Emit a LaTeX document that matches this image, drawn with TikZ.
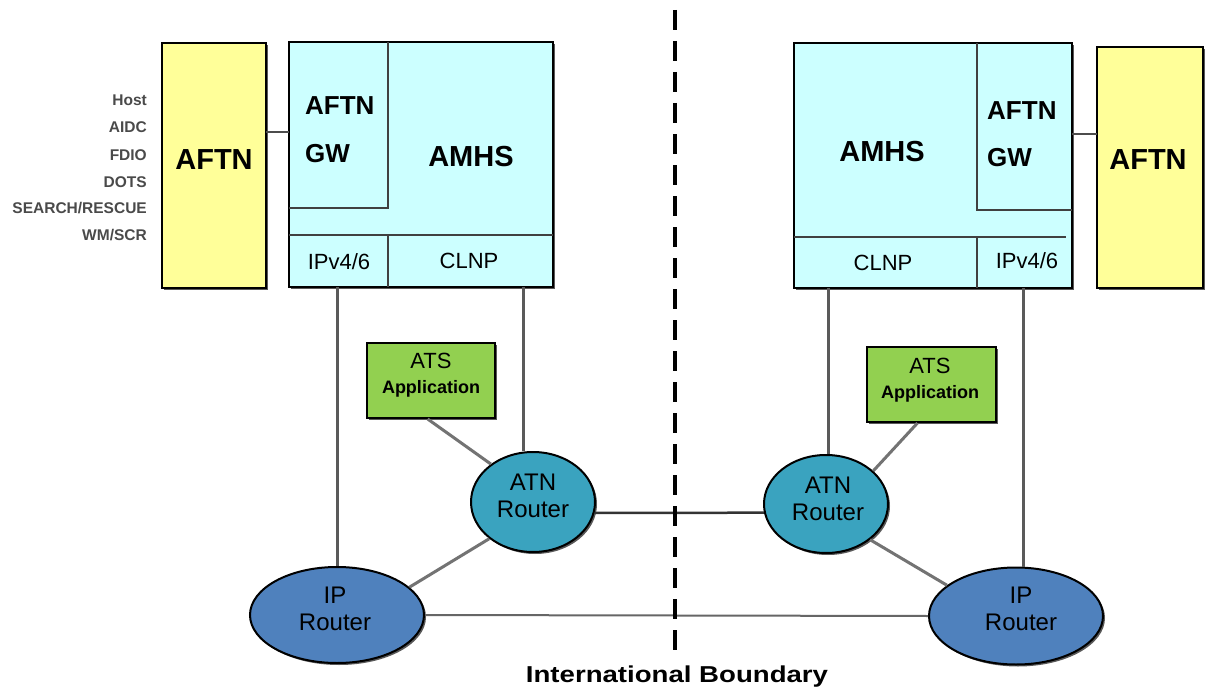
\documentclass[tikz,border=0pt]{standalone}
\usepackage{fontspec}
\setmainfont{Liberation Sans}
\usetikzlibrary{shapes.geometric,shadows,calc}
\definecolor{aftnY}{HTML}{FFFF99}
\definecolor{amhsC}{HTML}{CCFFFF}
\definecolor{atsG}{HTML}{92D050}
\definecolor{atnB}{HTML}{3AA3BF}
\definecolor{ipB}{HTML}{4F81BD}
\definecolor{lineG}{HTML}{5A5A5A}
\definecolor{sideG}{HTML}{4A4A4A}
\newcommand\fBig{\fontsize{29bp}{34bp}\selectfont\bfseries}
\newcommand\fGw{\fontsize{26bp}{30bp}\selectfont\bfseries}
\newcommand\fProto{\fontsize{22bp}{26bp}\selectfont}
\newcommand\fRouter{\fontsize{24bp}{28bp}\selectfont}
\newcommand\fAts{\fontsize{22bp}{26bp}\selectfont}
\newcommand\fAppl{\fontsize{18bp}{20bp}\selectfont\bfseries}
\newcommand\fSide{\fontsize{15.5bp}{18bp}\selectfont\bfseries}
\newcommand\fIntl{\fontsize{23bp}{26bp}\selectfont\bfseries}
\begin{document}
\begin{tikzpicture}[x=1bp,y=-1bp,
  shade/.style={drop shadow={shadow xshift=2bp,shadow yshift=-2bp,fill=black!65,opacity=1}},
  box/.style={draw=black,line width=2bp,inner sep=0pt,shade},
  inner/.style={draw=black!75,line width=1.5bp},
  router/.style={ellipse,draw=black,line width=2bp,inner sep=0pt,shade},
  atsbox/.style={box,fill=atsG},
  txt/.style={anchor=base,inner sep=0pt},
  conn/.style={draw=lineG,line width=3bp},
  lconn/.style={draw=black!55,line width=3bp},
  side/.style={anchor=east,font=\fSide,text=sideG,inner sep=0pt},
  boundary/.style={draw=black,line width=4.5bp,dash pattern=on 20bp off 11bp}]
\fill[white] (0,0) rectangle (1208,696);
\useasboundingbox (0,0) rectangle (1208,696);

% ---------- left side ----------
\node[side] (hostL) at (147,100) {Host};
\node[side] (aidcL) at (147,127) {AIDC};
\node[side] (fdioL) at (147,155) {FDIO};
\node[side] (dotsL) at (147,182) {DOTS};
\node[side] (srL) at (147,208) {SEARCH/RESCUE};
\node[side] (wmL) at (147,235) {WM/SCR};

\node[box,fill=aftnY,minimum width=104bp,minimum height=245bp] (aftnL) at (214,165.5) {};
\node[txt,font=\fBig] (aftnLt) at (214,170) {AFTN};
\node[box,fill=amhsC,minimum width=264bp,minimum height=245bp] (amhsL) at (421,164.5) {};
\draw[inner] (388,42) -- (388,208) -- (289,208);
\draw[inner] (289,235) -- (553,235);
\draw[inner] (388,235) -- (388,287);
\node[anchor=base west,font=\fGw,inner sep=0pt] (gwLa) at (305,115) {AFTN};
\node[anchor=base west,font=\fGw,inner sep=0pt] (gwLb) at (305,163) {GW};
\node[txt,font=\fBig] (amhsLt) at (471,167) {AMHS};
\node[txt,font=\fProto] (ipLt) at (339,269) {IPv4/6};
\node[txt,font=\fProto] (clnpLt) at (469,268) {CLNP};

\coordinate (aftnLc) at (266,132);
\coordinate (amhsLc) at (289,132);
\draw[draw=black!70,line width=2bp] (aftnLc) -- (amhsLc);

\node[atsbox,minimum width=128bp,minimum height=75bp] (atsL) at (431,380.5) {};
\node[txt,font=\fAts] (atsLa) at (431,368) {ATS};
\node[txt,font=\fAppl] (atsLb) at (431,393) {Application};
\node[router,fill=atnB,minimum width=124bp,minimum height=100bp] (atnL) at (533,502) {};
\node[txt,font=\fRouter] (atnLa) at (533,490) {ATN};
\node[txt,font=\fRouter] (atnLb) at (533,517) {Router};
\node[router,fill=ipB,minimum width=174bp,minimum height=96bp] (ipL) at (337,615) {};
\node[txt,font=\fRouter] (ipLa) at (335,603) {IP};
\node[txt,font=\fRouter] (ipLb) at (335,630) {Router};

\coordinate (ipLtop) at (337,287);
\coordinate (clnpLbot) at (523,287);
\draw[conn] (ipLtop) -- (ipL.north);
\draw[conn] (clnpLbot) -- (clnpLbot |- atnL.north);
\draw[lconn] (atsL.-95) -- (atnL.138);
\draw[lconn] (atnL.220) -- (ipL.21);

% ---------- right side ----------
\node[box,fill=amhsC,minimum width=278bp,minimum height=245bp] (amhsR) at (933,165.5) {};
\draw[inner] (977,43) -- (977,210) -- (1072,210);
\draw[inner] (794,237) -- (1066,237);
\draw[inner] (977,237) -- (977,288);
\node[anchor=base west,font=\fGw,inner sep=0pt] (gwRa) at (987,120) {AFTN};
\node[anchor=base west,font=\fGw,inner sep=0pt] (gwRb) at (987,167) {GW};
\node[txt,font=\fBig] (amhsRt) at (882,162) {AMHS};
\node[txt,font=\fProto] (clnpRt) at (883,270) {CLNP};
\node[txt,font=\fProto] (ipRt) at (1027,268) {IPv4/6};

\node[box,fill=aftnY,minimum width=106bp,minimum height=241bp] (aftnR) at (1150,167.5) {};
\node[txt,font=\fBig] (aftnRt) at (1148,170) {AFTN};
\coordinate (amhsRc) at (1072,134);
\coordinate (aftnRc) at (1097,134);
\draw[draw=black!70,line width=2bp] (amhsRc) -- (aftnRc);

\node[atsbox,minimum width=129bp,minimum height=75bp] (atsR) at (931.5,384.5) {};
\node[txt,font=\fAts] (atsRa) at (930,373) {ATS};
\node[txt,font=\fAppl] (atsRb) at (930,398) {Application};
\node[router,fill=atnB,minimum width=124bp,minimum height=98bp] (atnR) at (826,504) {};
\node[txt,font=\fRouter] (atnRa) at (828,493) {ATN};
\node[txt,font=\fRouter] (atnRb) at (828,520) {Router};
\node[router,fill=ipB,minimum width=174bp,minimum height=97bp] (ipR) at (1016,616) {};
\node[txt,font=\fRouter] (ipRa) at (1021,603) {IP};
\node[txt,font=\fRouter] (ipRb) at (1021,630) {Router};

\coordinate (clnpRbot) at (828,288);
\coordinate (ipRtop) at (1023,288);
\draw[conn] (clnpRbot) -- (clnpRbot |- atnR.north);
\draw[conn] (ipRtop) -- (ipRtop |- ipR.north);
\draw[lconn] (atsR.-110) -- (atnR.35);
\draw[lconn] (atnR.-39) -- (ipR.156);

% ---------- links across the boundary ----------
\draw[draw=black!80,line width=2.5bp] (atnL.-10) -- (atnR.188);
\draw[draw=black!60,line width=2bp] (ipL.east) -- (ipR.west);

\coordinate (bTop) at (675,10);
\coordinate (bBot) at (675,652);
\draw[boundary] (bTop) -- (bBot);
\node[txt,font=\fIntl] (intl) at (677,682) {\scalebox{1.2}[1]{International Boundary}};
\end{tikzpicture}
\end{document}
